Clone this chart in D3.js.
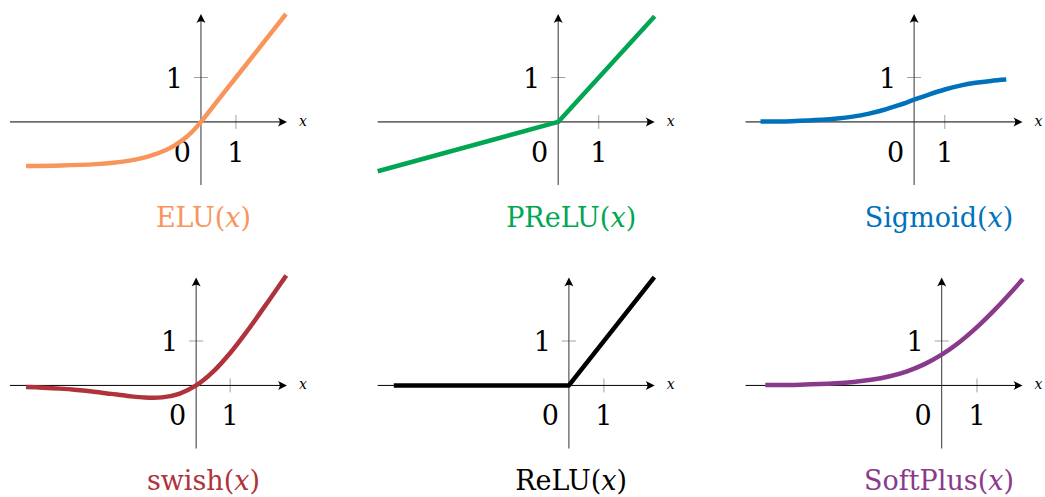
<!DOCTYPE html>
<html>
<head>
<meta charset="utf-8">
<script src="https://cdnjs.cloudflare.com/ajax/libs/d3/7.8.5/d3.min.js"></script>
<style>
  body { margin: 0; background: #fff; }
</style>
</head>
<body>
<div id="chart"></div>
<script>
// function names (titles), in reading order
var names = ["ELU", "PReLU", "Sigmoid", "swish", "ReLU", "SoftPlus"];

var eluX = [-5, -4, -3, -2.5, -2, -1.5, -1, -0.75, -0.5, -0.25, 0, 0.5, 1, 1.5, 2, 2.43];
var eluY = [-0.993, -0.982, -0.950, -0.918, -0.865, -0.777, -0.632, -0.528, -0.393, -0.221, 0, 0.5, 1, 1.5, 2, 2.43];

var preluX = [-4.45, 0, 2.38];
var preluY = [-1.11, 0, 2.38];

var sigmoidX = [-5, -4, -3, -2.5, -2, -1.5, -1, -0.5, 0, 0.5, 1, 1.5, 2, 2.5, 3];
var sigmoidY = [0.007, 0.018, 0.047, 0.076, 0.119, 0.182, 0.269, 0.378, 0.5, 0.622, 0.731, 0.818, 0.881, 0.924, 0.953];

var swishX = [-5, -4.5, -4, -3.5, -3, -2.5, -2, -1.5, -1, -0.5, 0, 0.5, 1, 1.5, 2, 2.5, 2.65];
var swishY = [-0.034, -0.050, -0.072, -0.103, -0.142, -0.190, -0.238, -0.274, -0.269, -0.189, 0, 0.311, 0.731, 1.226, 1.762, 2.310, 2.475];

var reluX = [-5, 0, 2.44];
var reluY = [0, 0, 2.44];

var softplusX = [-5, -4, -3, -2.5, -2, -1.5, -1, -0.5, 0, 0.5, 1, 1.5, 2, 2.3];
var softplusY = [0.007, 0.018, 0.049, 0.079, 0.127, 0.201, 0.313, 0.474, 0.693, 0.974, 1.313, 1.701, 2.127, 2.396];

// x extent of each little axis, y extent shared
var axisXMin = [-5.46, -4.45, -5.49, -5.47, -5.46, -5.56];
var axisXMax = [2.46, 2.38, 3.53, 2.67, 2.45, 2.29];
var axisY = [-1.42, 2.43];

var tickLabels = ["0", "1"];
var axisLabel = "x";

var colors = ["#f7955a", "#00a651", "#0072bc", "#b0323b", "#000000", "#8a3a8c"];
var smooth = [true, false, true, true, false, true];

var xs = [eluX, preluX, sigmoidX, swishX, reluX, softplusX];
var ys = [eluY, preluY, sigmoidY, swishY, reluY, softplusY];

var FONT = "DejaVu Serif";

var W = 1045, H = 497;
var svg = d3.select("#chart").append("svg")
    .attr("width", W)
    .attr("height", H)
    .style("font-family", FONT);

var axW = 277, axH = 171;
var colLeft = [10, 377.7, 745.5];
var rowTop = [14, 277.5];

function arrow(g, x, y, angle) {
    g.append("path")
     .attr("d", "M0,0 L-9,-4.5 Q-5.5,0 -9,4.5 Z")
     .attr("transform", "translate(" + x + "," + y + ") rotate(" + angle + ")")
     .attr("fill", "#000");
}

names.forEach(function(name, i) {
    var col = i % 3, row = Math.floor(i / 3);
    var left = colLeft[col], top = rowTop[row];

    var x = d3.scaleLinear().domain([axisXMin[i], axisXMax[i]]).range([left, left + axW]);
    var y = d3.scaleLinear().domain(axisY).range([top + axH, top]);

    var g = svg.append("g");
    var x0 = x(0), y0 = y(0);

    // ticks (gray, crossing the axes)
    g.append("line")
     .attr("x1", x(1)).attr("x2", x(1))
     .attr("y1", y0 - 7).attr("y2", y0 + 7)
     .attr("stroke", "#a0a0a0").attr("stroke-width", 1);
    g.append("line")
     .attr("x1", x0 - 7).attr("x2", x0 + 7)
     .attr("y1", y(1)).attr("y2", y(1))
     .attr("stroke", "#a0a0a0").attr("stroke-width", 1);

    // axes
    g.append("line")
     .attr("x1", x.range()[0]).attr("x2", x.range()[1] - 4)
     .attr("y1", y0).attr("y2", y0)
     .attr("stroke", "#000").attr("stroke-width", 1);
    arrow(g, x.range()[1], y0, 0);

    g.append("line")
     .attr("x1", x0).attr("x2", x0)
     .attr("y1", y.range()[0]).attr("y2", y.range()[1] + 4)
     .attr("stroke", "#333").attr("stroke-width", 1);
    arrow(g, x0, y.range()[1], -90);

    // tick labels
    g.append("text")
     .attr("x", x0 - 10).attr("y", y0 + 40)
     .attr("text-anchor", "end")
     .attr("font-size", "27px")
     .text(tickLabels[0]);
    g.append("text")
     .attr("x", x(1)).attr("y", y0 + 40)
     .attr("text-anchor", "middle")
     .attr("font-size", "27px")
     .text(tickLabels[1]);
    g.append("text")
     .attr("x", x0 - 18).attr("y", y(1) + 10)
     .attr("text-anchor", "end")
     .attr("font-size", "27px")
     .text(tickLabels[1]);

    g.append("text")
     .attr("x", x.range()[1] + 12).attr("y", y0 + 4)
     .attr("font-size", "14px")
     .attr("font-style", "italic")
     .text(axisLabel);

    // the curve
    var pts = xs[i].map(function(v, k) { return [v, ys[i][k]]; });
    var line = d3.line()
        .x(function(d) { return x(d[0]); })
        .y(function(d) { return y(d[1]); })
        .curve(smooth[i] ? d3.curveCatmullRom : d3.curveLinear);

    g.append("path")
     .datum(pts)
     .attr("d", line)
     .attr("fill", "none")
     .attr("stroke", colors[i])
     .attr("stroke-width", 4.5)
     .attr("stroke-linejoin", "round");

    // title
    var t = g.append("text")
     .attr("x", left + 193.5).attr("y", y0 + 105)
     .attr("text-anchor", "middle")
     .attr("font-size", "27px")
     .attr("fill", colors[i]);
    t.append("tspan").text(name + "(");
    t.append("tspan").attr("font-style", "italic").text(axisLabel);
    t.append("tspan").text(")");
});
</script>
</body>
</html>
